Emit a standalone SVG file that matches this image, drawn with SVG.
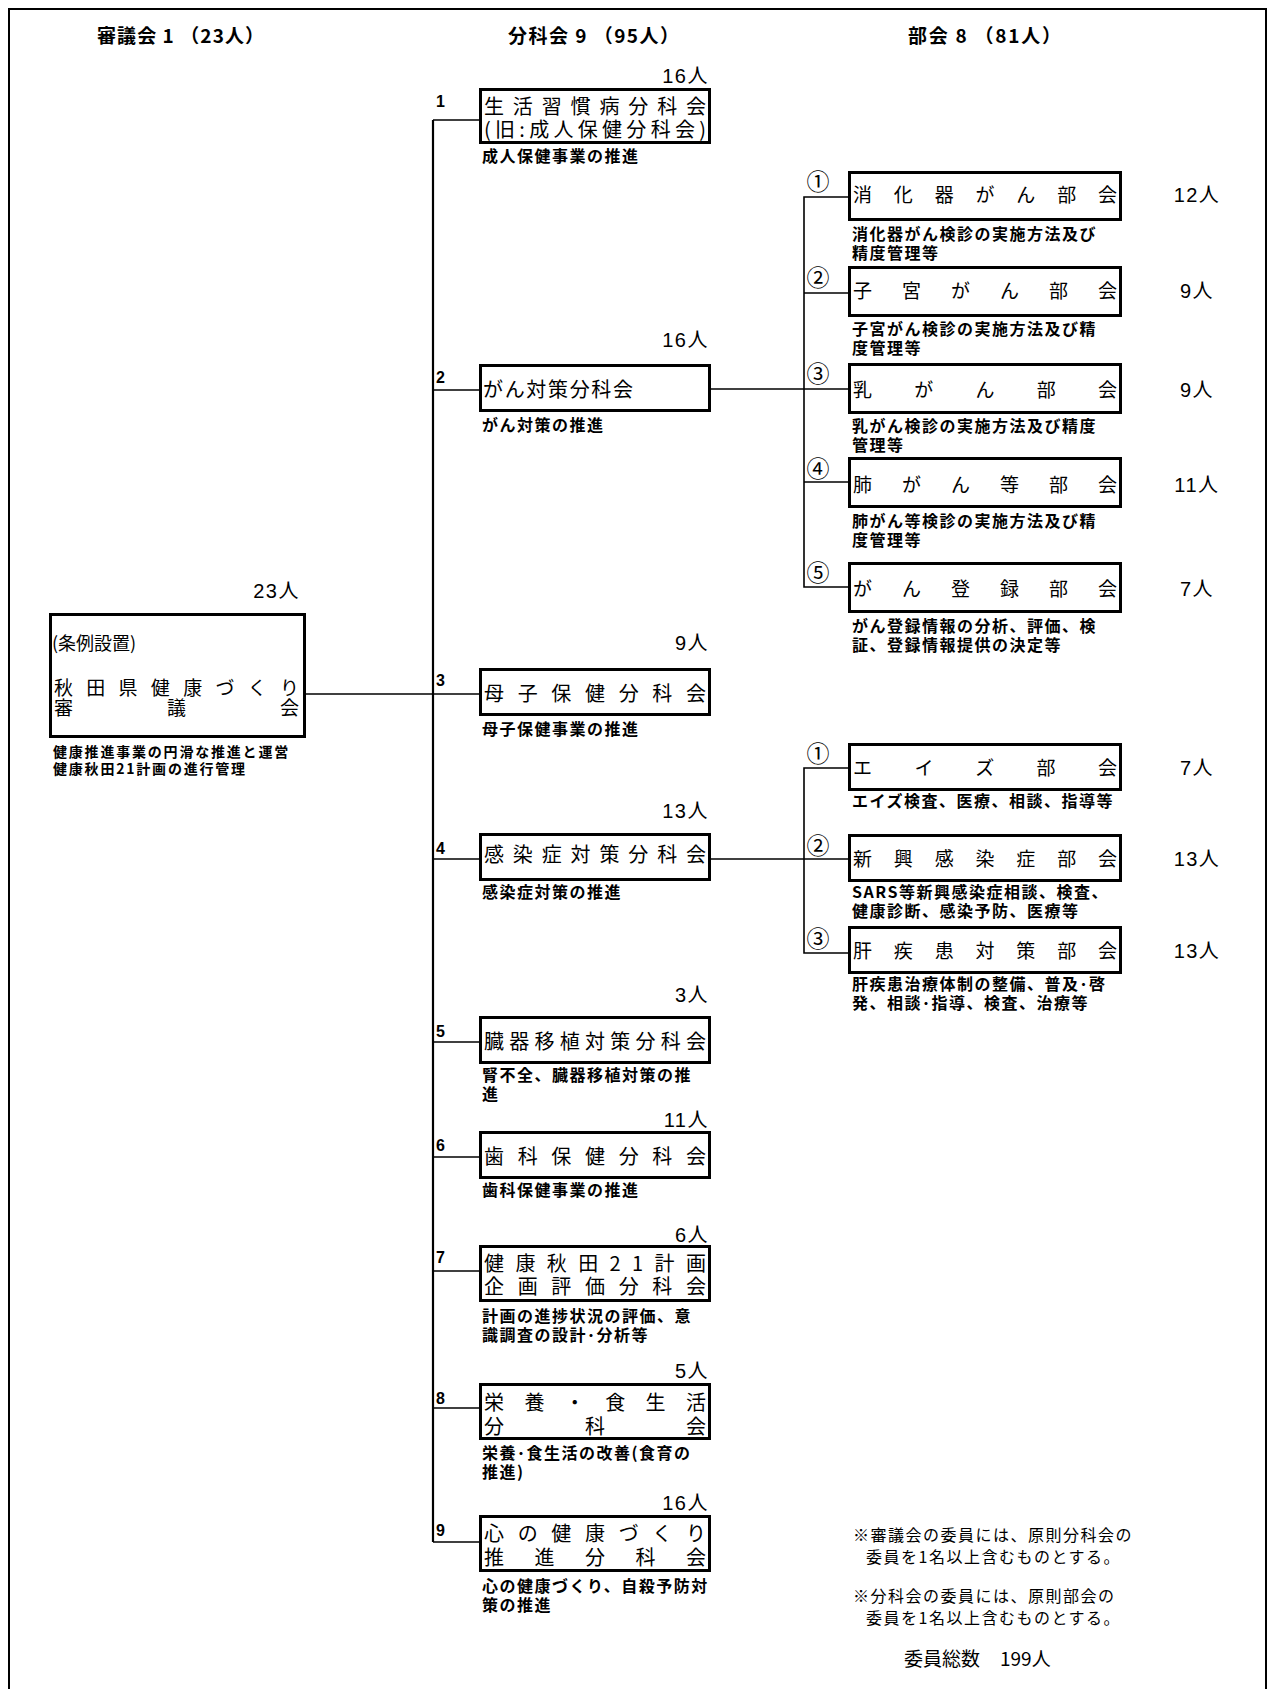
<svg xmlns="http://www.w3.org/2000/svg" width="1271" height="1689" viewBox="0 0 1271 1689">
<style>
text{font-family:"Noto Sans CJK JP",sans-serif;fill:#000}
.hdr{font-size:19px;font-weight:bold}
.t{font-size:20px}
.tb{font-size:19px}
.d{font-size:16px;font-weight:bold;letter-spacing:1.5px}
.ds{font-size:14px;font-weight:bold;letter-spacing:1.8px}
.n{font-family:"Liberation Sans","Noto Sans CJK JP",sans-serif;font-size:20px;letter-spacing:1.5px}
.ne{text-anchor:end}
.nm{text-anchor:middle}
.lbl{font-family:"Liberation Sans",sans-serif;font-size:16px;font-weight:bold}
.c{font-size:23px;text-anchor:middle}
.note{font-size:16px;letter-spacing:1.5px}
.tot{font-size:19px}
.box{fill:#fff;stroke:#000;stroke-width:3}
.ln{fill:none;stroke:#000;stroke-width:1.6}
.tr{fill:none;stroke:#000;stroke-width:2.2}
.frame{fill:none;stroke:#000;stroke-width:2}
</style>

<rect class="frame" x="9" y="9" width="1257" height="1700"/>

<g id="headers">
<text class="hdr" x="97" y="43" textLength="167" lengthAdjust="spacing">審議会 1 （23人）</text>
<text class="hdr" x="508" y="43" textLength="171" lengthAdjust="spacing">分科会 9 （95人）</text>
<text class="hdr" x="908" y="43" textLength="153" lengthAdjust="spacing">部会 8 （81人）</text>
</g>

<g id="connectors">
<path class="tr" d="M433,120 V1542"/>
<path class="ln" d="M433,120 H479"/>
<path class="ln" d="M433,390 H479"/>
<path class="ln" d="M305,694 H479"/>
<path class="ln" d="M433,859 H479"/>
<path class="ln" d="M433,1042 H479"/>
<path class="ln" d="M433,1157 H479"/>
<path class="ln" d="M433,1271 H479"/>
<path class="ln" d="M433,1408 H479"/>
<path class="ln" d="M433,1542 H479"/>
<path class="ln" d="M711,389 H848"/>
<path class="ln" d="M848,197 H804 V587 H848"/>
<path class="ln" d="M804,293 H848"/>
<path class="ln" d="M804,482 H848"/>
<path class="ln" d="M711,859 H848"/>
<path class="ln" d="M848,768 H804 V953 H848"/>
</g>

<g id="shingikai">
<rect class="box" x="50.5" y="614.5" width="254" height="122"/>
<text class="n ne" x="300" y="598">23人</text>
<text x="52" y="650" style="font-size:18px">(条例設置)</text>
<text class="tb"><tspan x="54" y="695" textLength="245" lengthAdjust="spacing">秋田県健康づくり</tspan><tspan x="54" y="715" textLength="245" lengthAdjust="spacing">審議会</tspan></text>
<text class="ds"><tspan x="53" y="757">健康推進事業の円滑な推進と運営</tspan><tspan x="53" y="774">健康秋田21計画の進行管理</tspan></text>
</g>

<g id="bunka1">
<text class="lbl" x="436" y="107">1</text>
<text class="n ne" x="709" y="83">16人</text>
<rect class="box" x="480.5" y="89.5" width="229" height="53"/>
<text class="t"><tspan x="484" y="114" textLength="222" lengthAdjust="spacing">生活習慣病分科会</tspan><tspan x="484" y="137" textLength="222" lengthAdjust="spacing">(旧:成人保健分科会)</tspan></text>
<text class="d" x="482" y="162">成人保健事業の推進</text>
</g>

<g id="bunka2">
<text class="lbl" x="436" y="383">2</text>
<text class="n ne" x="709" y="347">16人</text>
<rect class="box" x="480.5" y="365.5" width="229" height="45"/>
<text class="t" x="483" y="397" textLength="150" lengthAdjust="spacing">がん対策分科会</text>
<text class="d" x="482" y="431">がん対策の推進</text>
</g>

<g id="bunka3">
<text class="lbl" x="436" y="686">3</text>
<text class="n ne" x="709" y="650">9人</text>
<rect class="box" x="480.5" y="669.5" width="229" height="45"/>
<text class="t" x="484" y="701" textLength="222" lengthAdjust="spacing">母子保健分科会</text>
<text class="d" x="482" y="735">母子保健事業の推進</text>
</g>

<g id="bunka4">
<text class="lbl" x="436" y="854">4</text>
<text class="n ne" x="709" y="818">13人</text>
<rect class="box" x="480.5" y="834.5" width="229" height="45"/>
<text class="t" x="484" y="862" textLength="222" lengthAdjust="spacing">感染症対策分科会</text>
<text class="d" x="482" y="898">感染症対策の推進</text>
</g>

<g id="bunka5">
<text class="lbl" x="436" y="1037">5</text>
<text class="n ne" x="709" y="1002">3人</text>
<rect class="box" x="480.5" y="1017.5" width="229" height="45"/>
<text class="t" x="484" y="1049" textLength="222" lengthAdjust="spacing">臓器移植対策分科会</text>
<text class="d"><tspan x="482" y="1081">腎不全、臓器移植対策の推</tspan><tspan x="482" y="1100">進</tspan></text>
</g>

<g id="bunka6">
<text class="lbl" x="436" y="1151">6</text>
<text class="n ne" x="709" y="1127">11人</text>
<rect class="box" x="480.5" y="1132.5" width="229" height="45"/>
<text class="t" x="484" y="1164" textLength="222" lengthAdjust="spacing">歯科保健分科会</text>
<text class="d" x="482" y="1196">歯科保健事業の推進</text>
</g>

<g id="bunka7">
<text class="lbl" x="436" y="1263">7</text>
<text class="n ne" x="709" y="1242">6人</text>
<rect class="box" x="480.5" y="1246.5" width="229" height="54"/>
<text class="t"><tspan x="484" y="1271" textLength="222" lengthAdjust="spacing">健康秋田21計画</tspan><tspan x="484" y="1294" textLength="222" lengthAdjust="spacing">企画評価分科会</tspan></text>
<text class="d"><tspan x="482" y="1322">計画の進捗状況の評価、意</tspan><tspan x="482" y="1341">識調査の設計･分析等</tspan></text>
</g>

<g id="bunka8">
<text class="lbl" x="436" y="1404">8</text>
<text class="n ne" x="709" y="1378">5人</text>
<rect class="box" x="480.5" y="1384.5" width="229" height="54"/>
<text class="t"><tspan x="484" y="1410" textLength="222" lengthAdjust="spacing">栄養・食生活</tspan><tspan x="484" y="1434" textLength="222" lengthAdjust="spacing">分科会</tspan></text>
<text class="d"><tspan x="482" y="1459">栄養･食生活の改善(食育の</tspan><tspan x="482" y="1478">推進)</tspan></text>
</g>

<g id="bunka9">
<text class="lbl" x="436" y="1536">9</text>
<text class="n ne" x="709" y="1510">16人</text>
<rect class="box" x="480.5" y="1516.5" width="229" height="54"/>
<text class="t"><tspan x="484" y="1541" textLength="222" lengthAdjust="spacing">心の健康づくり</tspan><tspan x="484" y="1565" textLength="222" lengthAdjust="spacing">推進分科会</tspan></text>
<text class="d"><tspan x="482" y="1592">心の健康づくり、自殺予防対</tspan><tspan x="482" y="1611">策の推進</tspan></text>
</g>

<g id="bukai-gan1">
<text class="c" x="818" y="190">①</text>
<rect class="box" x="849.5" y="172.5" width="271" height="47"/>
<text class="tb" x="853" y="202" textLength="264" lengthAdjust="spacing">消化器がん部会</text>
<text class="n nm" x="1197" y="202">12人</text>
<text class="d"><tspan x="852" y="240">消化器がん検診の実施方法及び</tspan><tspan x="852" y="259">精度管理等</tspan></text>
</g>

<g id="bukai-gan2">
<text class="c" x="818" y="286">②</text>
<rect class="box" x="849.5" y="267.5" width="271" height="48"/>
<text class="tb" x="853" y="298" textLength="264" lengthAdjust="spacing">子宮がん部会</text>
<text class="n nm" x="1197" y="298">9人</text>
<text class="d"><tspan x="852" y="335">子宮がん検診の実施方法及び精</tspan><tspan x="852" y="354">度管理等</tspan></text>
</g>

<g id="bukai-gan3">
<text class="c" x="818" y="382">③</text>
<rect class="box" x="849.5" y="364.5" width="271" height="48"/>
<text class="tb" x="853" y="397" textLength="264" lengthAdjust="spacing">乳がん部会</text>
<text class="n nm" x="1197" y="397">9人</text>
<text class="d"><tspan x="852" y="432">乳がん検診の実施方法及び精度</tspan><tspan x="852" y="451">管理等</tspan></text>
</g>

<g id="bukai-gan4">
<text class="c" x="818" y="477">④</text>
<rect class="box" x="849.5" y="458.5" width="271" height="48"/>
<text class="tb" x="853" y="492" textLength="264" lengthAdjust="spacing">肺がん等部会</text>
<text class="n nm" x="1197" y="492">11人</text>
<text class="d"><tspan x="852" y="527">肺がん等検診の実施方法及び精</tspan><tspan x="852" y="546">度管理等</tspan></text>
</g>

<g id="bukai-gan5">
<text class="c" x="818" y="581">⑤</text>
<rect class="box" x="849.5" y="563.5" width="271" height="48"/>
<text class="tb" x="853" y="596" textLength="264" lengthAdjust="spacing">がん登録部会</text>
<text class="n nm" x="1197" y="596">7人</text>
<text class="d"><tspan x="852" y="632">がん登録情報の分析、評価、検</tspan><tspan x="852" y="651">証、登録情報提供の決定等</tspan></text>
</g>

<g id="bukai-kan1">
<text class="c" x="818" y="762">①</text>
<rect class="box" x="849.5" y="744.5" width="271" height="45"/>
<text class="tb" x="853" y="775" textLength="264" lengthAdjust="spacing">エイズ部会</text>
<text class="n nm" x="1197" y="775">7人</text>
<text class="d" x="852" y="807">エイズ検査、医療、相談、指導等</text>
</g>

<g id="bukai-kan2">
<text class="c" x="818" y="854">②</text>
<rect class="box" x="849.5" y="835.5" width="271" height="45"/>
<text class="tb" x="853" y="866" textLength="264" lengthAdjust="spacing">新興感染症部会</text>
<text class="n nm" x="1197" y="866">13人</text>
<text class="d"><tspan x="852" y="898">SARS等新興感染症相談、検査、</tspan><tspan x="852" y="917">健康診断、感染予防、医療等</tspan></text>
</g>

<g id="bukai-kan3">
<text class="c" x="818" y="947">③</text>
<rect class="box" x="849.5" y="927.5" width="271" height="45"/>
<text class="tb" x="853" y="958" textLength="264" lengthAdjust="spacing">肝疾患対策部会</text>
<text class="n nm" x="1197" y="958">13人</text>
<text class="d"><tspan x="852" y="990">肝疾患治療体制の整備、普及･啓</tspan><tspan x="852" y="1009">発、相談･指導、検査、治療等</tspan></text>
</g>

<g id="notes">
<text class="note"><tspan x="853" y="1541">※審議会の委員には、原則分科会の</tspan><tspan x="866" y="1563">委員を1名以上含むものとする。</tspan></text>
<text class="note"><tspan x="853" y="1602">※分科会の委員には、原則部会の</tspan><tspan x="866" y="1624">委員を1名以上含むものとする。</tspan></text>
<text class="tot" x="904" y="1666">委員総数 <tspan x="1000">199人</tspan></text>
</g>
</svg>
